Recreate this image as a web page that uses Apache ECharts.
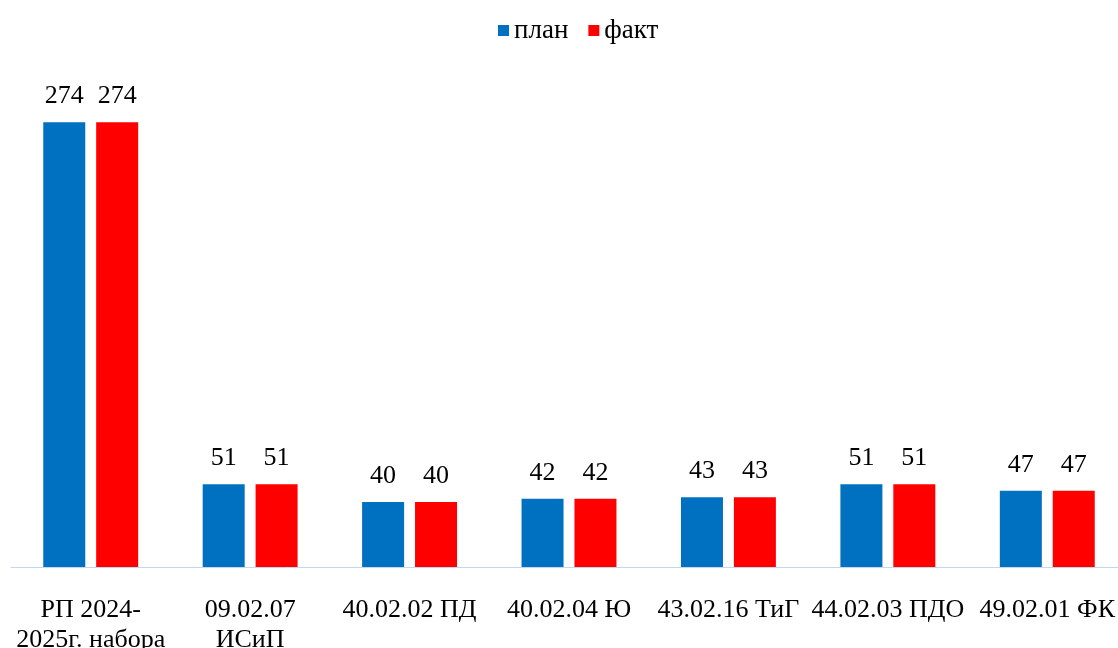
<!DOCTYPE html>
<html>
<head>
<meta charset="utf-8">
<script src="https://cdn.jsdelivr.net/npm/echarts@6/dist/echarts.min.js"></script>
<style>
  html, body { margin: 0; padding: 0; background: #fff; overflow: hidden; }
  #chart { width: 1118px; height: 648px; }
</style>
</head>
<body>
<div id="chart"></div>
<script>
  // data
  const categories = ['РП 2024-\n2025г. набора', '09.02.07\nИСиП', '40.02.02 ПД', '40.02.04 Ю', '43.02.16 ТиГ', '44.02.03 ПДО', '49.02.01 ФК']
  const planValues = [274, 51, 40, 42, 43, 51, 47]
  const factValues = [274, 51, 40, 42, 43, 51, 47]
  const seriesNames = ['план', 'факт']

  const font = '"Liberation Serif", "Times New Roman", serif'
  const chart = echarts.init(document.getElementById('chart'))

  const labelStyle = {
    show: true,
    position: 'top',
    distance: 13,
    color: '#000',
    fontFamily: font,
    fontSize: 26
  }

  chart.setOption({
    animation: false,
    textStyle: { fontFamily: font },
    legend: {
      top: 12,
      left: 493,
      icon: 'rect',
      itemWidth: 11,
      itemHeight: 11,
      itemGap: 20,
      textStyle: { fontSize: 27, color: '#000', fontFamily: font },
      data: seriesNames
    },
    grid: {
      left: 11,
      right: -9,
      top: 80,
      bottom: 81,
      outerBoundsMode: 'none'
    },
    xAxis: {
      type: 'category',
      data: categories,
      axisTick: { show: false },
      axisLine: { lineStyle: { color: '#C5D7EE', width: 1 } },
      axisLabel: {
        interval: 0,
        margin: 28,
        color: '#000',
        fontFamily: font,
        fontSize: 26,
        lineHeight: 30
      }
    },
    yAxis: {
      type: 'value',
      min: 0,
      max: 300,
      show: false,
      splitLine: { show: false }
    },
    series: [
      {
        name: seriesNames[0],
        type: 'bar',
        data: planValues,
        barWidth: 42,
        barGap: '26%',
        itemStyle: { color: '#0070C0' },
        label: labelStyle
      },
      {
        name: seriesNames[1],
        type: 'bar',
        data: factValues,
        barWidth: 42,
        itemStyle: { color: '#FF0000' },
        label: labelStyle
      }
    ]
  })
</script>
</body>
</html>
